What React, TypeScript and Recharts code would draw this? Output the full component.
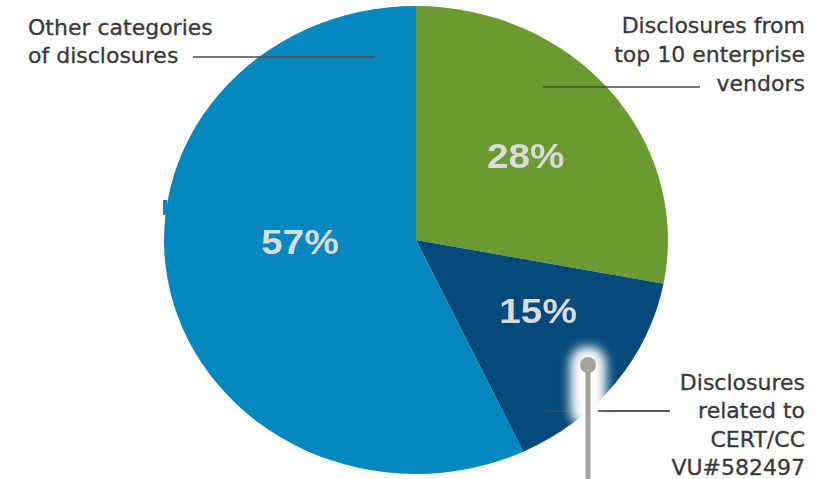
import { Cell, Pie, PieChart } from 'recharts';

const sliceNames = ['Top 10 enterprise vendors', 'CERT/CC VU#582497', 'Other categories'];
const sliceValues = [28, 15, 57];
const sliceColors = ['#6a9a30', '#064a7c', '#0588c0'];

const calloutTopLeft = ['Other categories', 'of disclosures'];
const calloutTopRight = ['Disclosures from', 'top 10 enterprise', 'vendors'];
const calloutBottomRight = ['Disclosures', 'related to', 'CERT/CC', 'VU#582497'];

const data = sliceNames.map((name, i) => ({ name, value: sliceValues[i] }));

const W = 825;
const H = 479;
const CX = 416;
const CY = 240;
const R = 234;
// source image is stretched horizontally
const STRETCH = 252 / 234;

// label radius factor / angle nudge per slice
const labelTweak = [
  { r: 0.565, da: 0 },
  { r: 0.57, da: 6 },
  { r: 0.46, da: -12 },
];

const RAD = Math.PI / 180;

function PctLabel(props: any) {
  const { cx, cy, midAngle, outerRadius, index, value } = props;
  const t = labelTweak[index];
  const a = (midAngle + t.da) * RAD;
  const r = outerRadius * t.r;
  const x = cx + r * Math.cos(-a);
  const y = cy + r * Math.sin(-a);
  return (
    <text
      x={x}
      y={y}
      textAnchor="middle"
      dominantBaseline="central"
      fill="#dadada"
      fontSize={36}
      fontWeight="bold"
      fontFamily="'Liberation Sans', Arial, sans-serif"
    >
      {value}%
    </text>
  );
}

const textStyle = {
  fontFamily: "'DejaVu Sans', sans-serif",
  fontSize: 22,
  fill: '#383838',
  stroke: '#383838',
  strokeWidth: 0.3,
};

export default function App() {
  return (
    <div style={{ position: 'absolute', left: 0, top: 0, width: W, height: H, background: '#fff', overflow: 'hidden' }}>
      <div
        style={{
          position: 'absolute',
          left: 0,
          top: 0,
          transform: `scaleX(${STRETCH})`,
          transformOrigin: `${CX}px ${CY}px`,
        }}
      >
        <PieChart width={W} height={H} margin={{ top: 0, right: 0, bottom: 0, left: 0 }}>
          <Pie
            data={data}
            dataKey="value"
            cx={CX}
            cy={CY}
            outerRadius={R}
            startAngle={90}
            endAngle={-270}
            stroke="none"
            label={PctLabel}
            labelLine={false}
            isAnimationActive={false}
          >
            {data.map((d, i) => (
              <Cell key={d.name} fill={sliceColors[i]} />
            ))}
          </Pie>
        </PieChart>
      </div>
      <svg width={W} height={H} style={{ position: 'absolute', left: 0, top: 0 }}>
        <defs>
          <filter id="glow" x="-100%" y="-100%" width="300%" height="300%">
            <feGaussianBlur stdDeviation="6" />
          </filter>
        </defs>
        <rect x={163} y={200} width={4} height={15} fill="#0588c0" />

        {calloutTopLeft.map((s, i) => (
          <text key={s} x={28} y={35 + i * 28} {...textStyle}>
            {s}
          </text>
        ))}
        <line x1={193} y1={57} x2={375} y2={57} stroke="#4a4a4a" strokeWidth={1.5} />

        {calloutTopRight.map((s, i) => (
          <text key={s} x={805} y={33 + i * 29} textAnchor="end" {...textStyle}>
            {s}
          </text>
        ))}
        <line x1={543} y1={87} x2={700} y2={87} stroke="#4a4a4a" strokeWidth={1.5} />

        {calloutBottomRight.map((s, i) => (
          <text key={s} x={805} y={390 + i * 28.3} textAnchor="end" {...textStyle}>
            {s}
          </text>
        ))}
        <line x1={545} y1={411} x2={670} y2={411} stroke="#4a4a4a" strokeWidth={1.5} />

        <rect x={572} y={348} width={32} height={78} rx={14} fill="#ffffff" filter="url(#glow)" />
        <rect x={572} y={350} width={32} height={70} rx={14} fill="#ffffff" opacity={0.6} filter="url(#glow)" />
        <line x1={598} y1={411} x2={670} y2={411} stroke="#4a4a4a" strokeWidth={1.5} />
        <line x1={588} y1={365} x2={588} y2={479} stroke="#a3a3a3" strokeWidth={5} />
        <circle cx={588} cy={365} r={8} fill="#a3a3a3" />
      </svg>
    </div>
  );
}
